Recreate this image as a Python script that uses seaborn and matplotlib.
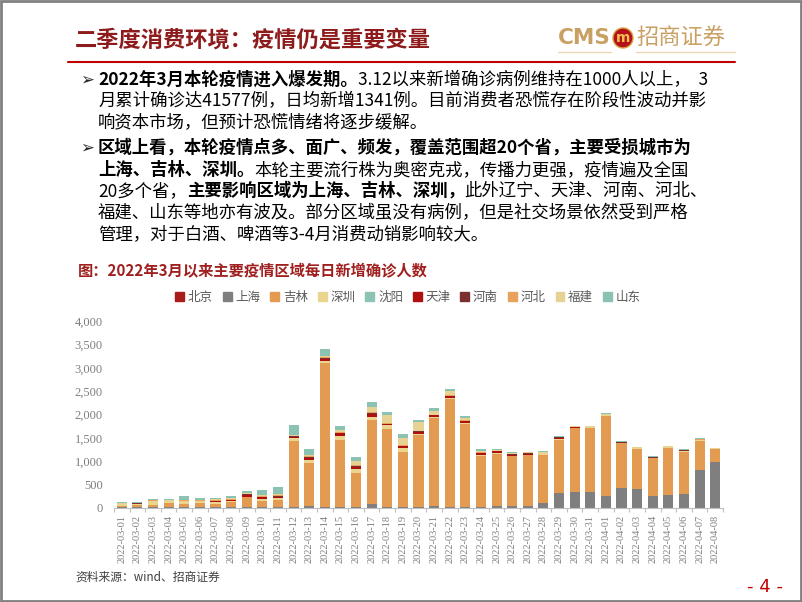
import matplotlib
matplotlib.use("Agg")
import matplotlib.pyplot as plt
import matplotlib.patches as mpatches
from matplotlib.lines import Line2D
import numpy as np
import pandas as pd
import seaborn as sns

# ---- data ----
dates = pd.date_range("2022-03-01", "2022-04-08").strftime("%Y-%m-%d").tolist()
regions = ['北京', '上海', '吉林', '深圳', '沈阳', '天津', '河南', '河北', '福建', '山东']
colors = ['#A91C1C', '#7F7F7F', '#E39B51', '#EAD58E', '#8DC3B4',
          '#B00F0F', '#7B2F2F', '#E8A25C', '#E6D394', '#8CC2B3']

beijing = [5, 5, 5, 5, 5, 5, 5, 5, 5, 5, 5, 5, 5, 5, 5, 5, 5, 5, 5, 5,
           5, 5, 5, 5, 5, 5, 5, 5, 5, 5, 5, 5, 5, 5, 5, 5, 5, 5, 5]
shanghai = [10, 15, 20, 15, 15, 15, 15, 15, 20, 20, 20, 10, 40, 10, 15, 10, 70, 20, 20, 25,
            30, 10, 10, 20, 30, 30, 40, 95, 310, 330, 345, 245, 420, 405, 250, 275, 295, 810, 985]
jilin = [20, 40, 40, 80, 60, 90, 60, 110, 200, 130, 150, 1410, 910, 3080, 1435, 725, 1805, 1660, 1180, 1530,
         1900, 2310, 1790, 1090, 1120, 1070, 1080, 1030, 1150, 1370, 1365, 1720, 955, 850, 805, 1010, 905, 625, 270]
shenzhen = [40, 30, 80, 40, 60, 30, 40, 20, 20, 40, 30, 70, 70, 60, 85, 85, 70, 80, 70, 20,
            20, 20, 20, 20, 15, 15, 15, 15, 15, 10, 10, 15, 15, 15, 15, 10, 15, 15, 10]
shenyang = [0, 0, 0, 0, 0, 0, 0, 0, 0, 0, 0, 0, 0, 0, 0, 0, 0, 0, 0, 0,
            0, 0, 0, 0, 0, 0, 0, 0, 0, 0, 0, 0, 0, 0, 0, 0, 0, 0, 0]
tianjin = [5, 5, 5, 5, 10, 10, 25, 15, 30, 30, 40, 30, 50, 40, 55, 55, 70, 30, 50, 45,
           25, 45, 30, 35, 40, 15, 10, 5, 10, 10, 5, 5, 5, 5, 5, 5, 5, 5, 0]
henan = [5, 5, 5, 5, 5, 5, 10, 10, 15, 10, 10, 10, 20, 20, 15, 15, 15, 10, 10, 20,
         15, 10, 10, 15, 5, 20, 20, 5, 20, 10, 5, 5, 5, 5, 5, 5, 5, 5, 0]
hebei = [10, 5, 10, 10, 15, 10, 10, 20, 20, 20, 20, 10, 10, 10, 10, 20, 10, 10, 10, 10,
         5, 10, 10, 10, 5, 5, 5, 5, 5, 5, 5, 5, 5, 5, 5, 5, 5, 5, 0]
fujian = [5, 5, 10, 15, 10, 10, 20, 10, 10, 20, 20, 20, 30, 30, 40, 90, 115, 170, 145, 190,
          80, 90, 50, 30, 20, 15, 15, 30, 5, 5, 5, 15, 10, 10, 10, 5, 10, 10, 5]
shandong = [30, 20, 15, 15, 70, 35, 35, 55, 50, 105, 155, 215, 135, 145, 100, 90, 110, 75, 95, 35,
            50, 40, 45, 30, 20, 15, 15, 30, 10, 10, 10, 25, 15, 15, 15, 10, 15, 10, 10]

yticks = [0, 500, 1000, 1500, 2000, 2500, 3000, 3500, 4000]

series = [beijing, shanghai, jilin, shenzhen, shenyang, tianjin, henan, hebei, fujian, shandong]
df = pd.DataFrame(dict(zip(regions, series)), index=dates)
cum = df.cumsum(axis=1)

# ---- figure ----
sns.set_theme(style="white")
plt.rcParams['font.family'] = ['Noto Sans CJK SC', 'DejaVu Sans']

W, H = 802, 602
fig = plt.figure(figsize=(W / 100, H / 100), dpi=100)
renderer = fig.canvas.get_renderer()


def fx(x):
    return x / W


def fy(y):
    return 1 - y / H


# frame
fig.add_artist(mpatches.Rectangle((0.001, 0.001), 0.998, 0.997, transform=fig.transFigure,
                                  fill=False, edgecolor='#808080', lw=2))

# header
fig.text(fx(75), fy(40), "二季度消费环境：疫情仍是重要变量", fontsize=16, weight='bold',
         color='#8E1B1B', va='center')
fig.add_artist(Line2D([fx(68), fx(735)], [fy(62), fy(62)], color='#C00000', lw=1.5))
fig.text(fx(558), fy(38), "CMS", fontsize=15.5, color='#C9A063', va='center', weight='bold',
         family=['DejaVu Sans'])
fig.add_artist(mpatches.Ellipse((fx(623), fy(38)), 20 / W, 20 / H, transform=fig.transFigure,
                                facecolor='#B5121B', edgecolor='#D9A441', lw=1))
fig.text(fx(623), fy(38), "m", fontsize=10, color='#F2C14E', weight='bold', ha='center',
         va='center', family=['DejaVu Sans'])
fig.text(fx(636), fy(38), "招商证券", fontsize=16, color='#C9A063', va='center')
fig.add_artist(Line2D([fx(558), fx(611)], [fy(52), fy(52)], color='#E8D7B5', lw=1))
fig.add_artist(Line2D([fx(636), fx(735)], [fy(52), fy(52)], color='#E8D7B5', lw=1))


# bullet text with bold / regular pieces
def rich_line(x, y, parts, size=12.5):
    for s, bold in parts:
        t = fig.text(fx(x), fy(y), s, fontsize=size, weight='bold' if bold else 'normal',
                     va='center', ha='left', color='#000000')
        x += t.get_window_extent(renderer).width


lines = [
    (80, [("2022年3月本轮疫情进入爆发期。", True), ("3.12以来新增确诊病例维持在1000人以上，  3", False)]),
    (101, [("月累计确诊达41577例，日均新增1341例。目前消费者恐慌存在阶段性波动并影", False)]),
    (122, [("响资本市场，但预计恐慌情绪将逐步缓解。", False)]),
    (148, [("区域上看，本轮疫情点多、面广、频发，覆盖范围超20个省，主要受损城市为", True)]),
    (170, [("上海、吉林、深圳。", True), ("本轮主要流行株为奥密克戎，传播力更强，疫情遍及全国", False)]),
    (191, [("20多个省，", False), ("主要影响区域为上海、吉林、深圳，", True), ("此外辽宁、天津、河南、河北、", False)]),
    (213, [("福建、山东等地亦有波及。部分区域虽没有病例，但是社交场景依然受到严格", False)]),
    (234, [("管理，对于白酒、啤酒等3-4月消费动销影响较大。", False)]),
]
for y, parts in lines:
    rich_line(98, y, parts)
for y in (80, 148):
    fig.text(fx(80), fy(y), "➢", fontsize=12, va='center', family=['DejaVu Sans'])

# chart title
fig.text(fx(78), fy(270), "图：2022年3月以来主要疫情区域每日新增确诊人数", fontsize=11,
         weight='bold', color='#A01F1F', va='center')

# ---- stacked bars ----
ax = fig.add_axes([fx(114), fy(508), 609 / W, 187 / H])
for k in range(len(regions) - 1, -1, -1):
    sns.barplot(x=dates, y=cum[regions[k]].values, color=colors[k], saturation=1,
                width=0.65, linewidth=0, errorbar=None, ax=ax)

ax.set_ylim(0, 4000)
ax.set_xlim(-0.5, len(dates) - 0.5)
ax.set_yticks(yticks)
ax.set_yticklabels([f"{v:,}" for v in yticks], family=['Liberation Serif'], fontsize=9,
                   color='#7F7F7F')
ax.set_xticks(range(len(dates)))
ax.set_xticklabels(dates, rotation=90, family=['Liberation Serif'], fontsize=7.5,
                   color='#7F7F7F')
ax.set_xticks(np.arange(-0.5, len(dates), 1), minor=True)
ax.tick_params(axis='x', which='major', length=0, pad=5)
ax.tick_params(axis='x', which='minor', length=3, color='#BFBFBF', width=0.8, bottom=True)
ax.tick_params(axis='y', length=0, pad=8)
for s in ['top', 'right', 'left']:
    ax.spines[s].set_visible(False)
ax.spines['bottom'].set_color('#BFBFBF')
ax.spines['bottom'].set_linewidth(0.8)
ax.set_xlabel("")
ax.set_ylabel("")
ax.grid(False)
ax.set_facecolor('white')

handles = [mpatches.Patch(color=c, label=r) for r, c in zip(regions, colors)]
leg = fig.legend(handles=handles, ncol=10, loc='center', bbox_to_anchor=(fx(408), fy(297)),
                 frameon=False, handlelength=0.7, handleheight=0.7, handletextpad=0.3,
                 columnspacing=0.8, fontsize=9)
for t in leg.get_texts():
    t.set_color('#595959')

# footer
fig.text(fx(75), fy(577), "资料来源：wind、招商证券", fontsize=8.5, color='#404040', va='center')
fig.text(fx(765), fy(587), "- 4 -", fontsize=13, color='#C00000', va='center', ha='center',
         family=['DejaVu Sans'])

fig.savefig("out.png", dpi=100)
